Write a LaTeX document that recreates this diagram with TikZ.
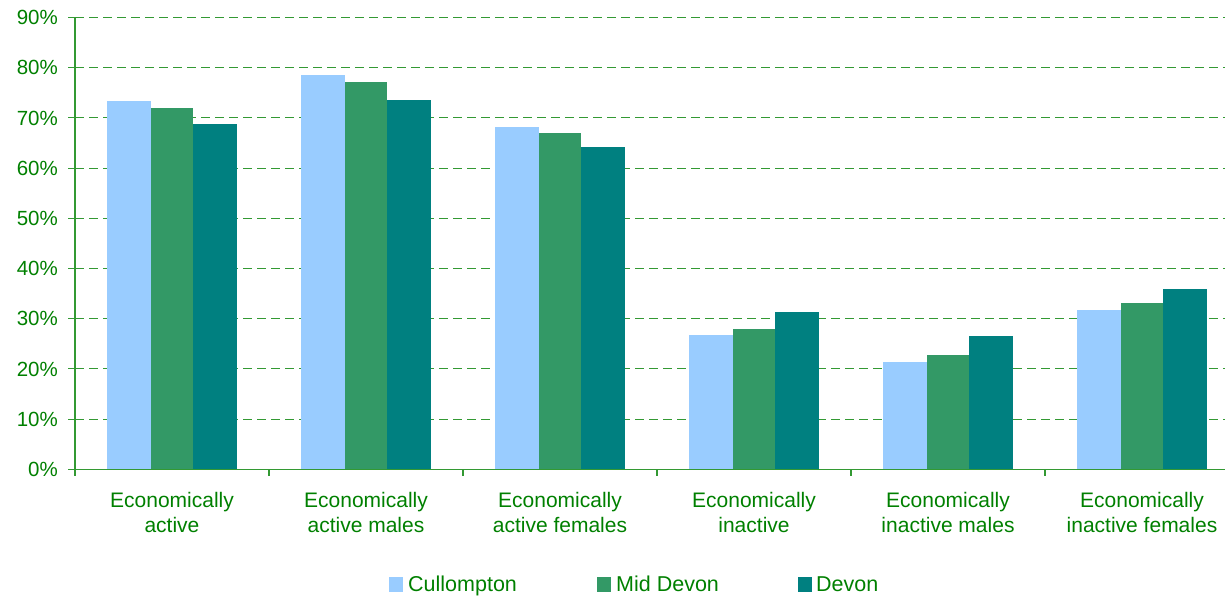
\documentclass[tikz,border=0pt]{standalone}
\usepackage{fontspec}
\setmainfont{Liberation Sans}
\definecolor{cblue}{HTML}{99CCFF}
\definecolor{cgreen}{HTML}{339966}
\definecolor{cteal}{HTML}{008080}
\definecolor{txtgreen}{HTML}{008000}
\definecolor{gridgreen}{HTML}{339933}
\tikzset{
  ticklab/.style={anchor=base east, inner sep=0pt, text=txtgreen, font=\fontsize{20.5}{24}\selectfont},
  catlab/.style={anchor=base, inner sep=0pt, text=txtgreen, font=\fontsize{21}{25}\selectfont},
  leglab/.style={anchor=base west, inner sep=0pt, text=txtgreen, font=\fontsize{21.5}{25}\selectfont},
  gridline/.style={draw=gridgreen, line width=0.8pt, dash pattern=on 9pt off 5pt},
  axisline/.style={draw=gridgreen, line width=1.1pt},
}
\begin{document}
\begin{tikzpicture}[x=1pt,y=1pt]
\useasboundingbox (0,0) rectangle (1225,599);
% grid
\foreach \k in {1,...,9} {
  \draw[gridline] (75,{129.7+\k*50.2}) -- (1225,{129.7+\k*50.2});
}
% bars
\foreach \i/\a/\b/\c in {0/73.4/72.0/68.8, 1/78.6/77.2/73.6, 2/68.2/67.0/64.2, 3/26.7/27.9/31.3, 4/21.3/22.7/26.5, 5/31.7/33.1/35.9} {
  \pgfmathsetmacro{\xo}{75+\i*194+32}
  \fill[cblue] (\xo,129.7) rectangle ({\xo+43.5},{129.7+\a*5.02});
  \fill[cgreen] ({\xo+43.5},129.7) rectangle ({\xo+86},{129.7+\b*5.02});
  \fill[cteal] ({\xo+86},129.7) rectangle ({\xo+130},{129.7+\c*5.02});
}
% axes
\draw[axisline] (75,129.7) -- (75,581.7);
\draw[axisline] (75,129.7) -- (1225,129.7);
\foreach \k in {0,...,9} {
  \draw[axisline] (68,{129.7+\k*50.2}) -- (75,{129.7+\k*50.2});
}
\node[ticklab] (t0) at (58,122.5) {0\%};
\foreach \k in {1,...,9} {
  \node[ticklab] (t\k) at (58,{129.7+\k*50.2-7.2}) {\k0\%};
}
\foreach \i in {0,...,5} {
  \draw[axisline] ({75+\i*194},129.7) -- ({75+\i*194},123);
}
% category labels
\node[catlab] (c1a) at (172,91) {Economically};
\node[catlab] (c1b) at (172,66) {active};
\node[catlab] (c2a) at (366,91) {Economically};
\node[catlab] (c2b) at (366,66) {active males};
\node[catlab] (c3a) at (560,91) {Economically};
\node[catlab] (c3b) at (560,66) {active females};
\node[catlab] (c4a) at (754,91) {Economically};
\node[catlab] (c4b) at (754,66) {inactive};
\node[catlab] (c5a) at (948,91) {Economically};
\node[catlab] (c5b) at (948,66) {inactive males};
\node[catlab] (c6a) at (1142,91) {Economically};
\node[catlab] (c6b) at (1142,66) {inactive females};
% legend
\fill[cblue] (389.3,7) rectangle (403.3,22);
\node[leglab] (l1) at (408,7) {Cullompton};
\fill[cgreen] (596.7,7) rectangle (610.6,22);
\node[leglab] (l2) at (616,7) {Mid Devon};
\fill[cteal] (797.7,7) rectangle (811.5,22);
\node[leglab] (l3) at (816,7) {Devon};
\end{tikzpicture}
\end{document}
